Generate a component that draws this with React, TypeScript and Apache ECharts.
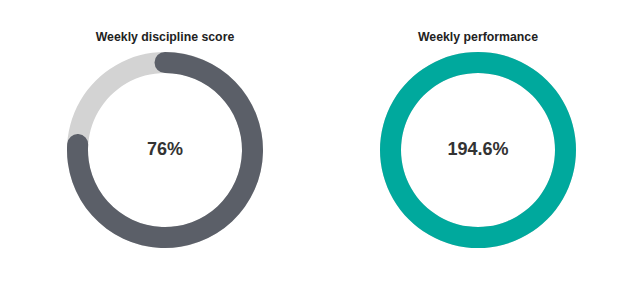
import React, { useEffect, useRef } from "react";
import * as echarts from "echarts";

const titles = ["Weekly discipline score", "Weekly performance"];
const values = [76, 194.6];
const colors = ["#5b5f68", "#00a99d"];
const trackColor = "#d3d3d3";
const centersX = [165, 478];

export default function App() {
  const ref = useRef<HTMLDivElement>(null);
  useEffect(() => {
    document.body.style.margin = "0";
    const chart = echarts.init(ref.current!, null, { renderer: "svg" });
    const series = values.map((v, i) => ({
      type: "gauge",
      center: [centersX[i], 150],
      radius: 98,
      startAngle: 90,
      endAngle: -270,
      min: 0,
      max: 100,
      pointer: { show: false },
      progress: { show: true, roundCap: true, width: 21, itemStyle: { color: colors[i] } },
      axisLine: { roundCap: false, lineStyle: { width: 21, color: [[1, trackColor]] } },
      axisTick: { show: false },
      splitLine: { show: false },
      axisLabel: { show: false },
      title: {
        show: true,
        offsetCenter: [0, -113],
        fontSize: 12.3,
        fontWeight: "bold",
        color: "#222",
        fontFamily: "Liberation Sans, Arial, sans-serif",
      },
      detail: {
        show: true,
        offsetCenter: [0, -1],
        valueAnimation: false,
        fontSize: 18,
        fontWeight: "bold",
        color: "#333",
        fontFamily: "Liberation Sans, Arial, sans-serif",
        formatter: () => `${values[i]}%`,
      },
      data: [{ value: Math.min(v, 100), name: titles[i] }],
    }));
    chart.setOption({ animation: false, series } as any);
    return () => chart.dispose();
  }, []);
  return <div ref={ref} style={{ width: 625, height: 282, background: "#fff" }} />;
}
